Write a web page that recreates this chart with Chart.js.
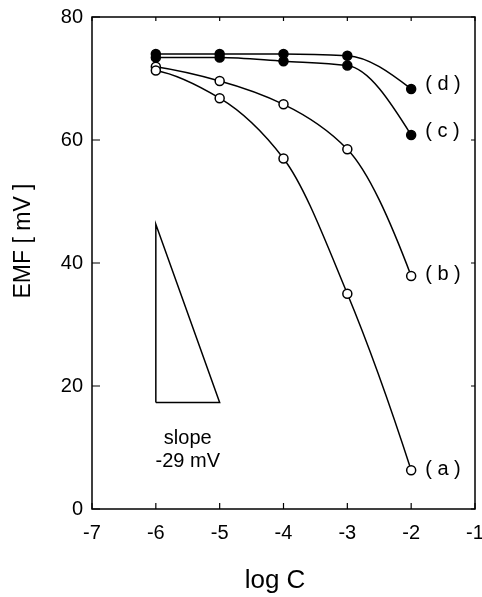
<!DOCTYPE html>
<html>
<head>
<meta charset="utf-8">
<script src="https://cdn.jsdelivr.net/npm/chart.js@4/dist/chart.umd.min.js"></script>
<style>
html,body{margin:0;padding:0;background:#fff;}
#wrap{width:482px;height:597px;}
</style>
</head>
<body>
<div id="wrap"><canvas id="c" width="482" height="597"></canvas></div>
<script>
// ---- data ----
const logC = [-6, -5, -4, -3, -2];
const seriesA = [71.3, 66.8, 57.0, 35.0, 6.3];
const seriesB = [71.9, 69.6, 65.8, 58.5, 37.9];
const seriesC = [73.4, 73.4, 72.8, 72.1, 60.8];
const seriesD = [74.0, 74.0, 74.0, 73.7, 68.3];
const curveLabels = ['( a )', '( b )', '( c )', '( d )'];
const slopeTriangleX = [-6, -6, -5, -6];
const slopeTriangleY = [17.3, 46.3, 17.3, 17.3];
const slopeText = ['slope', '-29 mV'];
const xTicks = [-7, -6, -5, -4, -3, -2, -1];
const yTicks = [0, 20, 40, 60, 80];

const FONT = '"Liberation Sans", Arial, sans-serif';
const toPts = (xs, ys) => xs.map((x, i) => ({x: x, y: ys[i]}));

function curve(ys, filled) {
  return {
    data: toPts(logC, ys),
    smoothPchip: true,
    showLine: true,
    borderColor: '#000',
    borderWidth: 1.5,
    tension: 0.4,
    pointRadius: 4.5,
    pointBorderWidth: 1.5,
    pointBorderColor: '#000',
    pointBackgroundColor: filled ? '#000' : '#fff',
    fill: false
  };
}

// shape-preserving (PCHIP) bezier control points, computed from the
// pixel positions the library gave to the points
function applyPchip(meta) {
  const line = meta.dataset;
  const p = meta.data, n = p.length;
  if (!line || n < 3) return;
  const x = p.map(q => q.x), y = p.map(q => q.y);
  const h = [], del = [];
  for (let i = 0; i < n - 1; i++) { h[i] = x[i + 1] - x[i]; del[i] = (y[i + 1] - y[i]) / h[i]; }
  const m = new Array(n).fill(0);
  for (let k = 1; k < n - 1; k++) {
    if (del[k - 1] * del[k] <= 0) { m[k] = 0; continue; }
    const w1 = 2 * h[k] + h[k - 1], w2 = h[k] + 2 * h[k - 1];
    m[k] = (w1 + w2) / (w1 / del[k - 1] + w2 / del[k]);
  }
  const endT = (h0, h1, d0, d1) => {
    let t = ((2 * h0 + h1) * d0 - h0 * d1) / (h0 + h1);
    if (Math.sign(t) !== Math.sign(d0)) t = 0;
    else if (Math.sign(d0) !== Math.sign(d1) && Math.abs(t) > Math.abs(3 * d0)) t = 3 * d0;
    return t;
  };
  m[0] = endT(h[0], h[1], del[0], del[1]);
  m[n - 1] = endT(h[n - 2], h[n - 3], del[n - 2], del[n - 3]);
  for (let i = 0; i < n; i++) {
    const hp = i > 0 ? h[i - 1] : 0, hn = i < n - 1 ? h[i] : 0;
    p[i].cp1x = x[i] - hp / 3; p[i].cp1y = y[i] - m[i] * hp / 3;
    p[i].cp2x = x[i] + hn / 3; p[i].cp2y = y[i] + m[i] * hn / 3;
  }
  line.updateControlPoints = function () {};
  line._pointsUpdated = true;
  delete line._path;
}

const pchipPlugin = {
  id: 'pchipPlugin',
  afterDatasetUpdate(chart, args) {
    if (chart.data.datasets[args.index].smoothPchip) applyPchip(args.meta);
  },
  beforeDatasetDraw(chart, args) {
    if (chart.data.datasets[args.index].smoothPchip) applyPchip(args.meta);
  }
};

const frame = {
  id: 'frame',
  afterDraw(chart) {
    const ctx = chart.ctx, a = chart.chartArea;
    const xs = chart.scales.x, ys = chart.scales.y;
    ctx.save();
    ctx.strokeStyle = '#000';
    ctx.lineWidth = 1.5;
    ctx.strokeRect(a.left, a.top, a.right - a.left, a.bottom - a.top);
    ctx.lineWidth = 1.2;
    ctx.beginPath();
    xTicks.forEach(v => {
      const px = xs.getPixelForValue(v);
      ctx.moveTo(px, a.bottom); ctx.lineTo(px, a.bottom - 6);
      ctx.moveTo(px, a.top); ctx.lineTo(px, a.top + 4);
    });
    yTicks.forEach(v => {
      const py = ys.getPixelForValue(v);
      ctx.moveTo(a.left, py); ctx.lineTo(a.left + 8, py);
      ctx.moveTo(a.right, py); ctx.lineTo(a.right - 4, py);
    });
    ctx.stroke();

    // curve labels
    ctx.fillStyle = '#000';
    ctx.font = '20px ' + FONT;
    ctx.textAlign = 'left';
    ctx.textBaseline = 'middle';
    const lastIdx = logC.length - 1;
    const ends = [seriesA, seriesB, seriesC, seriesD];
    ends.forEach((s, i) => {
      const px = xs.getPixelForValue(logC[lastIdx]) + 14;
      const py = ys.getPixelForValue(s[lastIdx]) - (i >= 2 ? 4 : 1);
      ctx.fillText(curveLabels[i], px, py);
    });

    // slope text
    ctx.textAlign = 'center';
    ctx.font = '20px ' + FONT;
    ctx.fillText(slopeText[0], xs.getPixelForValue(-5.5), ys.getPixelForValue(11.5));
    ctx.fillText(slopeText[1], xs.getPixelForValue(-5.5), ys.getPixelForValue(7.8));

    // axis titles
    ctx.font = '23px ' + FONT;
    ctx.save();
    ctx.translate(24, 241);
    ctx.rotate(-Math.PI / 2);
    ctx.fillText('EMF [ mV ]', 0, 0);
    ctx.restore();
    ctx.font = '26px ' + FONT;
    ctx.fillText('log C', 275, 581);
    ctx.restore();
  }
};

new Chart(document.getElementById('c'), {
  type: 'scatter',
  data: {
    datasets: [
      curve(seriesA, false),
      curve(seriesB, false),
      curve(seriesC, true),
      curve(seriesD, true),
      {
        data: toPts(slopeTriangleX, slopeTriangleY),
        showLine: true,
        tension: 0,
        borderColor: '#000',
        borderWidth: 1.5,
        pointRadius: 0,
        fill: false
      }
    ]
  },
  plugins: [pchipPlugin, frame],
  options: {
    responsive: false,
    animation: false,
    events: [],
    layout: {padding: {left: 0, right: 7, top: 17, bottom: 0}},
    plugins: {legend: {display: false}, tooltip: {enabled: false}, title: {display: false}},
    scales: {
      x: {
        type: 'linear', min: -7, max: -1,
        afterBuildTicks: s => { s.ticks = xTicks.map(v => ({value: v})); },
        afterFit: s => { s.height = 88; s.paddingLeft = 0; s.paddingRight = 0; },
        grid: {display: false, drawTicks: false},
        border: {display: false},
        ticks: {color: '#000', font: {family: FONT, size: 20}, padding: 12, maxRotation: 0, autoSkip: false}
      },
      y: {
        type: 'linear', min: 0, max: 80,
        afterBuildTicks: s => { s.ticks = yTicks.map(v => ({value: v})); },
        afterFit: s => { s.width = 92; s.paddingTop = 0; s.paddingBottom = 0; },
        grid: {display: false, drawTicks: false},
        border: {display: false},
        ticks: {color: '#000', font: {family: FONT, size: 20}, padding: 9}
      }
    }
  }
});
</script>
</body>
</html>
